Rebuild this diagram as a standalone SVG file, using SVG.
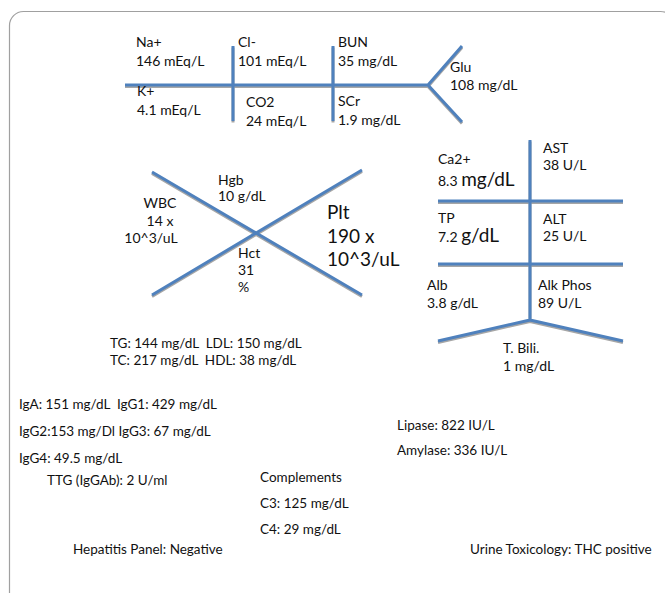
<svg xmlns="http://www.w3.org/2000/svg" width="665" height="593" viewBox="0 0 665 593">
<style>
.t{font-family:Lato,"Liberation Sans",sans-serif;font-size:14px;fill:#111;white-space:pre}
.s{font-size:13.5px}
.b{font-size:19px}
.ln{stroke:#4f81bd;stroke-width:3;fill:none}
.sh{stroke:#a6a6a6;stroke-width:3;fill:none}
</style>
<rect x="9.5" y="11.5" width="665" height="596" rx="14" fill="#fff" stroke="#a0a0a0" stroke-width="1.2"/>
<g id="connectors">
<g transform="translate(0,1.5)" class="sh">
<path d="M125 85H428M233 46V121M333 46V121M428 85L462 46M428 85L462 122"/>
<path d="M152 172L362 295M152 295L362 170"/>
<path d="M530 140V320M438 201H623M438 264H623M530 320L438 341M530 320L623 341"/>
</g>
<path class="ln" d="M125 85H428M233 46V121M333 46V121M428 85L462 46M428 85L462 122"/>
<path class="ln" d="M152 172L362 295M152 295L362 170"/>
<path class="ln" d="M530 140V320M438 201H623M438 264H623M530 320L438 341M530 320L623 341"/>
</g>
<g id="na"><text class="t" x="136" y="47">Na+</text><text class="t" x="136" y="66">146 mEq/L</text></g>
<g id="k"><text class="t" x="137" y="96">K+</text><text class="t" x="137" y="115">4.1 mEq/L</text></g>
<g id="cl"><text class="t" x="238" y="47">Cl-</text><text class="t" x="238" y="66">101 mEq/L</text></g>
<g id="co2"><text class="t" x="246" y="107">CO2</text><text class="t" x="246" y="126">24 mEq/L</text></g>
<g id="bun"><text class="t" x="338" y="47">BUN</text><text class="t" x="338" y="66">35 mg/dL</text></g>
<g id="scr"><text class="t" x="338" y="106">SCr</text><text class="t" x="338" y="125">1.9 mg/dL</text></g>
<g id="glu"><text class="t" x="450" y="72">Glu</text><text class="t" x="450" y="90">108 mg/dL</text></g>
<g id="wbc"><text class="t" x="160" y="208" text-anchor="middle">WBC</text><text class="t" x="160" y="226" text-anchor="middle">14 x</text><text class="t" x="151" y="243" text-anchor="middle">10^3/uL</text></g>
<g id="hgb"><text class="t" x="218" y="185">Hgb</text><text class="t" x="218" y="201">10 g/dL</text></g>
<g id="hct"><text class="t" x="238" y="258">Hct</text><text class="t" x="238" y="275">31</text><text class="t" x="238" y="292">%</text></g>
<g id="plt"><text class="t b" x="327" y="219">Plt</text><text class="t b" x="327" y="243">190 x</text><text class="t b" x="327" y="266">10^3/uL</text></g>
<g id="ca"><text class="t" x="438" y="164">Ca2+</text><text class="t" x="438" y="186">8.3 <tspan class="b">mg/dL</tspan></text></g>
<g id="ast"><text class="t" x="543" y="153">AST</text><text class="t" x="543" y="170">38 U/L</text></g>
<g id="tp"><text class="t" x="438" y="223">TP</text><text class="t" x="438" y="242">7.2 <tspan class="b">g/dL</tspan></text></g>
<g id="alt"><text class="t" x="543" y="224">ALT</text><text class="t" x="543" y="241">25 U/L</text></g>
<g id="alb"><text class="t" x="427" y="290">Alb</text><text class="t" x="427" y="308">3.8 g/dL</text></g>
<g id="alk"><text class="t" x="538" y="290">Alk Phos</text><text class="t" x="538" y="308">89 U/L</text></g>
<g id="tbili"><text class="t" x="503" y="353">T. Bili.</text><text class="t" x="503" y="371">1 mg/dL</text></g>
<g id="lipids"><text class="t s" x="110" y="348">TG: 144 mg/dL  LDL: 150 mg/dL</text><text class="t s" x="110" y="365">TC: 217 mg/dL  HDL: 38 mg/dL</text></g>
<g id="ig"><text class="t s" x="19" y="409">IgA: 151 mg/dL  IgG1: 429 mg/dL</text><text class="t s" x="19" y="436">IgG2:153 mg/Dl IgG3: 67 mg/dL</text><text class="t s" x="19" y="463">IgG4: 49.5 mg/dL</text><text class="t s" x="47" y="485">TTG (IgGAb): 2 U/ml</text></g>
<g id="comp"><text class="t s" x="260" y="482">Complements</text><text class="t s" x="260" y="508">C3: 125 mg/dL</text><text class="t s" x="260" y="534">C4: 29 mg/dL</text></g>
<g id="panc"><text class="t s" x="397" y="430">Lipase: 822 IU/L</text><text class="t s" x="397" y="455">Amylase: 336 IU/L</text></g>
<g id="hep"><text class="t s" x="73" y="554">Hepatitis Panel: Negative</text></g>
<g id="tox"><text class="t s" x="470" y="554">Urine Toxicology: THC positive</text></g>
</svg>
